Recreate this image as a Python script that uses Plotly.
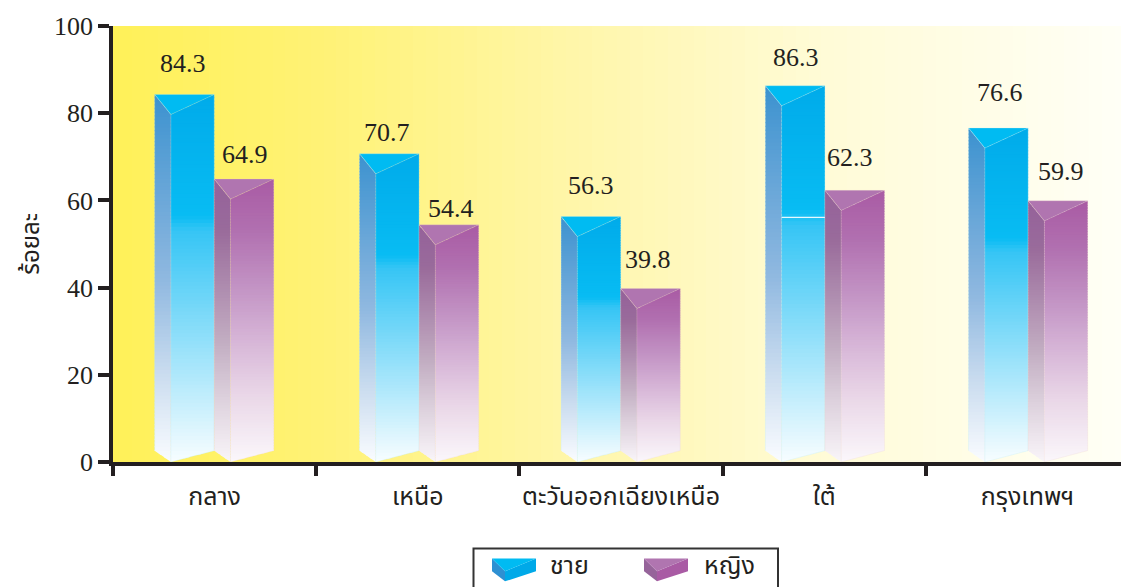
import plotly.graph_objects as go

# ---- data ----
categories = ["กลาง", "เหนือ", "ตะวันออกเฉียงเหนือ", "ใต้", "กรุงเทพฯ"]
male_values = [84.3, 70.7, 56.3, 86.3, 76.6]
female_values = [64.9, 54.4, 39.8, 62.3, 59.9]
series_names = ["ชาย", "หญิง"]
y_title = "ร้อยละ"
y_ticks = [0, 20, 40, 60, 80, 100]

# ---- placement tweaks ----
male_lift = [31, 21, 31, 28, 36]
female_lift = [25, 16, 29, 33, 29]
male_side = [-1, -2, 0, 1, 2]
female_side = [1, 2, -2, -5, 3]
bar_nudge = [0, 0.008, 0, 0.005, 0.005]

# ---- styling ----
W, H = 1121, 587
L, R, T, B = 113, 1121, 26, 462.5
INK = "#231F20"
SERIF = "Liberation Serif"
THAI = "Noto Sans Thai, Noto Sans Thai Looped, Loma, Garuda, Noto Sans, sans-serif"
male_front = [(0, "#F8FDFF"), (.63, "#35C5F5"), (.67, "#08BCF3"), (1, "#00ABEA")]
male_side_c = [(0, "#FAFCFF"), (.24, "#CADCEF"), (.5, "#8FB8E0"), (1, "#3C92CF")]
female_front = [(0, "#FBF7FB"), (.23, "#EAD8E8"), (.41, "#D9B9D9"), (.58, "#C69AC8"), (.82, "#B170B0"), (1, "#A95BA4")]
female_side_c = [(0, "#F9F5F9"), (.23, "#DCD0DC"), (.41, "#C4B0C4"), (.58, "#B292B2"), (.82, "#996B9B"), (1, "#95619A")]
male_top, female_top = "#00BBF2", "#B075B0"
bg_stops = [(0, "#FFF158"), (.2, "#FFF274"), (.45, "#FFF6A8"), (.7, "#FFFBD6"), (1, "#FFFFF6")]
LEVELS = 100
BAR_W, DEPTH_X = 0.293, 0.08
DIP, FOOT = 4.6, 2.6  # how far vertex drops at the top; how far corners rise at the foot


def rgb(h):
    return tuple(int(h[i:i + 2], 16) for i in (1, 3, 5))


def ramp(stops, t):
    for (a, ca), (b, cb) in zip(stops, stops[1:]):
        if t <= b:
            f = (t - a) / (b - a)
            return "rgb(%d,%d,%d)" % tuple(round(p + (q - p) * f) for p, q in zip(rgb(ca), rgb(cb)))
    return stops[-1][1]


def clip(poly, y0, y1):
    def half(points, keep, cross):
        out = []
        for i, p in enumerate(points):
            q = points[(i + 1) % len(points)]
            if keep(p):
                out.append(p)
            if keep(p) != keep(q):
                f = (cross - p[1]) / (q[1] - p[1])
                out.append((p[0] + (q[0] - p[0]) * f, cross))
        return out

    low = half(poly, lambda p: p[1] >= y0, y0)
    return half(low, lambda p: p[1] <= y1, y1) if low else []


def faces(x0, v):
    xv, x1 = x0 + DEPTH_X, x0 + BAR_W
    side = [(x0, FOOT), (xv, 0), (xv, v - DIP), (x0, v)]
    front = [(xv, 0), (x1, FOOT), (x1, v), (xv, v - DIP)]
    top = [(x0, v), (x1, v), (xv, v - DIP)]
    return side, front, top


fig = go.Figure()

# background wash
nx = 80
bg_x = [-0.5 + (4.46 + 0.5) * i / (nx - 1) for i in range(nx)]
fig.add_trace(go.Heatmap(x=bg_x, y=[0, 100], z=[[i / (nx - 1) for i in range(nx)]] * 2,
                         colorscale=[[a, c] for a, c in bg_stops], zmin=0, zmax=1,
                         showscale=False, hoverinfo="skip"))


def add_gradient(values, offset, stops, face_index):
    for lv in range(LEVELS):
        xs, ys = [], []
        for i, v in enumerate(values):
            face = faces(i + bar_nudge[i] + offset, v)[face_index]
            y0 = v * lv / LEVELS
            y1 = min(v, v * (lv + 1) / LEVELS + 0.3)
            for px_, py_ in clip(face, y0, y1):
                xs.append(px_)
                ys.append(py_)
            xs.append(None)
            ys.append(None)
        fig.add_trace(go.Scatter(x=xs, y=ys, mode="lines", fill="toself", line=dict(width=0),
                                 fillcolor=ramp(stops, (lv + .5) / LEVELS), hoverinfo="skip",
                                 showlegend=False))


def add_solid(values, offset, color, edge):
    xs, ys, ex, ey = [], [], [], []
    for i, v in enumerate(values):
        side, front, top = faces(i + bar_nudge[i] + offset, v)
        for p in top:
            xs.append(p[0]); ys.append(p[1])
        xs.append(None); ys.append(None)
        for p in [side[1], side[2], top[0], top[1], front[1], front[0]]:
            ex.append(p[0]); ey.append(p[1])
        ex.append(None); ey.append(None)
        for p in [side[0], side[3], side[2], top[1]]:
            ex.append(p[0]); ey.append(p[1])
        ex.append(None); ey.append(None)
    fig.add_trace(go.Scatter(x=xs, y=ys, mode="lines", fill="toself", line=dict(width=0),
                             fillcolor=color, hoverinfo="skip", showlegend=False))
    fig.add_trace(go.Scatter(x=ex, y=ey, mode="lines", line=dict(width=0.8, color=edge),
                             hoverinfo="skip", showlegend=False))


M_OFF, F_OFF = -BAR_W - 0.002, -0.002
add_gradient(male_values, M_OFF, male_side_c, 0)
add_gradient(male_values, M_OFF, male_front, 1)
add_solid(male_values, M_OFF, male_top, "rgba(190,235,245,0.35)")
add_gradient(female_values, F_OFF, female_side_c, 0)
add_gradient(female_values, F_OFF, female_front, 1)
add_solid(female_values, F_OFF, female_top, "rgba(240,215,205,0.3)")

# pale seam across the southern male bar
fig.add_trace(go.Scatter(x=[3 + bar_nudge[3] + M_OFF + DEPTH_X, 3 + bar_nudge[3] + M_OFF + BAR_W],
                         y=[male_values[3] * .65] * 2,
                         mode="lines", line=dict(width=1.2, color="#E8F9FF"), hoverinfo="skip",
                         showlegend=False))

annotations = []
for offset, values, lifts, sides in ((M_OFF, male_values, male_lift, male_side),
                                     (F_OFF, female_values, female_lift, female_side)):
    for i, v in enumerate(values):
        annotations.append(dict(x=i + bar_nudge[i] + offset + BAR_W / 2, y=v, xref="x", yref="y", text=f"{v:.1f}",
                                showarrow=False, xanchor="center", yanchor="middle",
                                yshift=lifts[i], xshift=sides[i],
                                font=dict(family=SERIF, size=26, color=INK)))


# ---- legend drawn by hand, its swatches are not a native Plotly symbol ----
def px(x):
    return (x - L) / (R - L)


def py(y):
    return (B - y) / (B - T)


def path(points):
    return "M " + " L ".join(f"{px(a):.5f},{py(b):.5f}" for a, b in points) + " Z"


shapes = [dict(type="rect", xref="paper", yref="paper", x0=px(473.5), x1=px(778), y0=py(549), y1=py(600),
               line=dict(color="#333333", width=2), fillcolor="white")]
for x0, col_top, col_side, col_front in ((492, male_top, "#2E90D2", "#00A9E8"),
                                         (644, female_top, "#96649A", "#A95BA4")):
    shapes += [
        dict(type="path", xref="paper", yref="paper", path=path([(x0, 559), (x0 + 13, 572), (x0 + 13, 582), (x0, 572)]),
             fillcolor=col_side, line=dict(width=0)),
        dict(type="path", xref="paper", yref="paper", path=path([(x0 + 13, 572), (x0 + 44, 559), (x0 + 44, 572), (x0 + 13, 582)]),
             fillcolor=col_front, line=dict(width=0)),
        dict(type="path", xref="paper", yref="paper", path=path([(x0, 559), (x0 + 44, 559), (x0 + 13, 572)]),
             fillcolor=col_top, line=dict(width=0)),
    ]
for name, lx in zip(series_names, (548, 702)):
    annotations.append(dict(xref="paper", yref="paper", x=px(lx), y=py(567), text=name, showarrow=False,
                            xanchor="left", yanchor="middle", font=dict(family=THAI, size=25, color=INK)))

fig.update_layout(
    width=W, height=H, autosize=False,
    margin=dict(l=L, r=W - R, t=T, b=H - B, pad=0),
    paper_bgcolor="white", plot_bgcolor="white", showlegend=False,
    shapes=shapes, annotations=annotations,
    xaxis=dict(range=[-0.5, 4.46], tickmode="array", tickvals=list(range(len(categories))), ticktext=categories,
               ticks="", showgrid=False, zeroline=False, showline=True, linecolor=INK, linewidth=3.5,
               ticklabelstandoff=9, tickfont=dict(family=THAI, size=25, color=INK),
               minor=dict(tickmode="array", tickvals=[-0.5, 0.5, 1.5, 2.5, 3.5], ticks="outside", ticklen=10,
                          tickwidth=3.5, tickcolor=INK, showgrid=False)),
    yaxis=dict(range=[0, 100], tickmode="array", tickvals=y_ticks, ticks="outside", ticklen=11, tickwidth=3.5,
               tickcolor=INK, showgrid=False, zeroline=False, showline=True, linecolor=INK, linewidth=3.5,
               tickfont=dict(family=SERIF, size=26, color=INK), ticklabelstandoff=0,
               title=dict(text=y_title, standoff=9, font=dict(family=THAI, size=24, color=INK))),
)

fig.write_html("out.html", config={"displayModeBar": False},
               post_script="document.body.style.margin='0';document.body.style.overflow='hidden';")
